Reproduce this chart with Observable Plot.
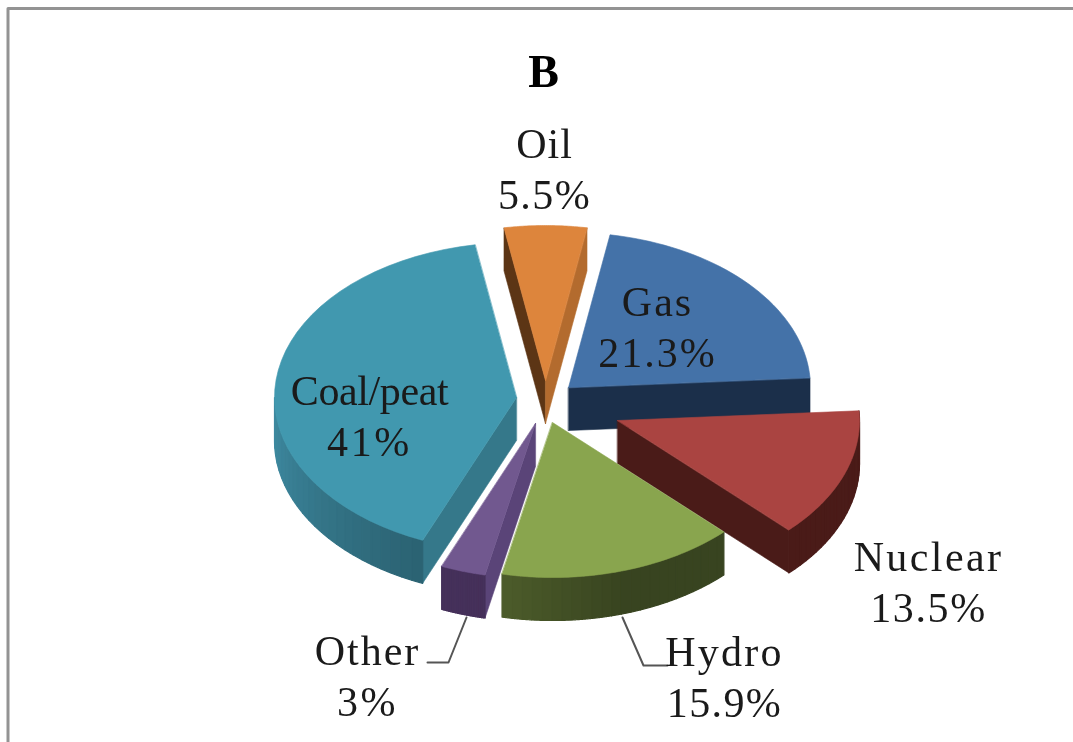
<!DOCTYPE html>
<html>
<head>
<meta charset="utf-8">
<script src="https://cdn.jsdelivr.net/npm/d3@7"></script>
<script src="https://cdn.jsdelivr.net/npm/@observablehq/plot@0.6"></script>
<style>
html,body{margin:0;padding:0;background:#fff;overflow:hidden}
</style>
</head>
<body>
<div id="chart"></div>
<script>
// Data
const title = "B";
const categories = ["Oil", "Gas", "Nuclear", "Hydro", "Other", "Coal/peat"];
const shares = [5.5, 21.3, 13.5, 15.9, 3, 41];

// Exploded-pie layout (one entry per category)
const apexX = [545, 568, 617, 552, 535, 516];
const apexY = [380, 387, 420, 422, 423, 397];
const topColors = ["#dd853c", "#4472a8", "#aa4441", "#89a54e", "#71588f", "#4198af"];
const cutColors = ["#b36b2e", "#1b2f4a", "#4a1b18", null, "#5a4478", "#35788a"];
const wallLight = [null, null, "#4a1b18", "#4c5c2a", "#45305a", "#3f8ca3"];
const wallDark = [null, null, "#4a1b18", "#384420", "#45305a", "#2b6272"];
const labelX = [544, 657, 928, 724, 367, 369];
const labelY = [167, 325, 580, 675, 674, 414];
const nameSpacing = [1, 2, 2.4, 2.2, 2, -0.4];
const valueSpacing = [1.4, 2, 1.6, 1.4, 2.5, 2.7];
const rx = 242, ry = 155, depth = 43;
const drawOrder = [1, 2, 3, 5, 4, 0];

// Angles from the shares, clockwise from 12 o'clock, Oil centred on top
const total = d3.sum(shares);
const spans = shares.map(v => v / total * 2 * Math.PI);
const starts = [];
spans.reduce((a, s, i) => (starts[i] = a, a + s), -spans[0] / 2);

const rim = (i, a, dz = 0) => ({
  x: apexX[i] + rx * Math.sin(a),
  y: apexY[i] - ry * Math.cos(a) + dz
});
const centre = (i, dz = 0) => ({x: apexX[i], y: apexY[i] + dz});
const arc = (i, a0, a1, dz = 0) =>
  d3.range(0, 41).map(k => rim(i, a0 + (a1 - a0) * k / 40, dz));
const cutFace = (i, a) => [centre(i), rim(i, a), rim(i, a, depth), centre(i, depth)];

const polys = [];
for (const i of drawOrder) {
  const a0 = starts[i], a1 = a0 + spans[i];
  if (i === 0) {
    polys.push({points: cutFace(i, a0), color: "#5c3515"});
    polys.push({points: cutFace(i, a1), color: cutColors[i]});
  }
  if (i === 1 || i === 2) polys.push({points: cutFace(i, a1), color: cutColors[i]});
  if (i === 4 || i === 5) polys.push({points: cutFace(i, a0), color: cutColors[i]});
  if (wallLight[i]) {
    // visible outer wall, shaded in bands drawn from the far end so each overlaps the next
    const wa0 = a0, wa1 = i === 5 ? 1.5 * Math.PI : a1;
    const n = 24;
    const col = d3.interpolateRgb(wallLight[i], wallDark[i]);
    for (let k = n - 1; k >= 0; k--) {
      const f = (k + .5) / n;
      const b0 = wa0 + (wa1 - wa0) * k / n;
      const b1 = wa0 + (wa1 - wa0) * (k + 1) / n;
      const t = i === 3 ? Math.min(1, (1 - f) * 2) : 1 - f;
      polys.push({
        points: [...arc(i, b0 , b1), ...arc(i, b1, b0, depth)],
        color: col(t), seam: true
      });
    }
  }
  polys.push({points: [centre(i), ...arc(i, a0, a1)], color: topColors[i]});
}

const labels = categories.map((c, i) => ({
  text: `${c}\n${shares[i]}%`, x: labelX[i], y: labelY[i]
}));
const spacingByLine = new Map(categories.flatMap((c, i) => [
  [c, nameSpacing[i]], [`${shares[i]}%`, valueSpacing[i]]
]));

const border = [{x: 1073, y: 8}, {x: 7.5, y: 8}, {x: 7.5, y: 742}];
const leaders = [
  [{x: 466, y: 617}, {x: 448, y: 662}, {x: 427, y: 662}],
  [{x: 622, y: 617}, {x: 643, y: 665}, {x: 667, y: 665}]
];

const chart = Plot.plot({
  width: 1073, height: 742,
  margin: 0,
  x: {domain: [0, 1073], range: [0, 1073], axis: null},
  y: {domain: [0, 742], range: [0, 742], axis: null},
  style: {fontFamily: "'Liberation Serif', serif", background: "#fff", filter: "blur(0.6px)"},
  marks: [
    Plot.line(border, {x: "x", y: "y", stroke: "#939393", strokeWidth: 3}),
    ...polys.map(p => Plot.line(p.points, {
      x: "x", y: "y", fill: p.color, stroke: p.color,
      strokeWidth: p.seam ? 1.2 : 0.6, curve: "linear-closed"
    })),
    ...leaders.map(l => Plot.line(l, {x: "x", y: "y", stroke: "#555", strokeWidth: 2})),
    Plot.text(labels, {
      x: "x", y: "y", text: "text", fontSize: 42, lineHeight: 1.2,
      fill: "#1a1a1a", textAnchor: "middle"
    }),
    Plot.text([title], {
      x: () => 543, y: () => 72, text: d => d, fontSize: 46, fontWeight: "bold", fill: "#000"
    })
  ]
});
d3.select(chart).selectAll("tspan").each(function() {
  const s = spacingByLine.get(this.textContent);
  if (s != null) this.setAttribute("letter-spacing", s);
});
document.getElementById("chart").append(chart);
</script>
</body>
</html>
